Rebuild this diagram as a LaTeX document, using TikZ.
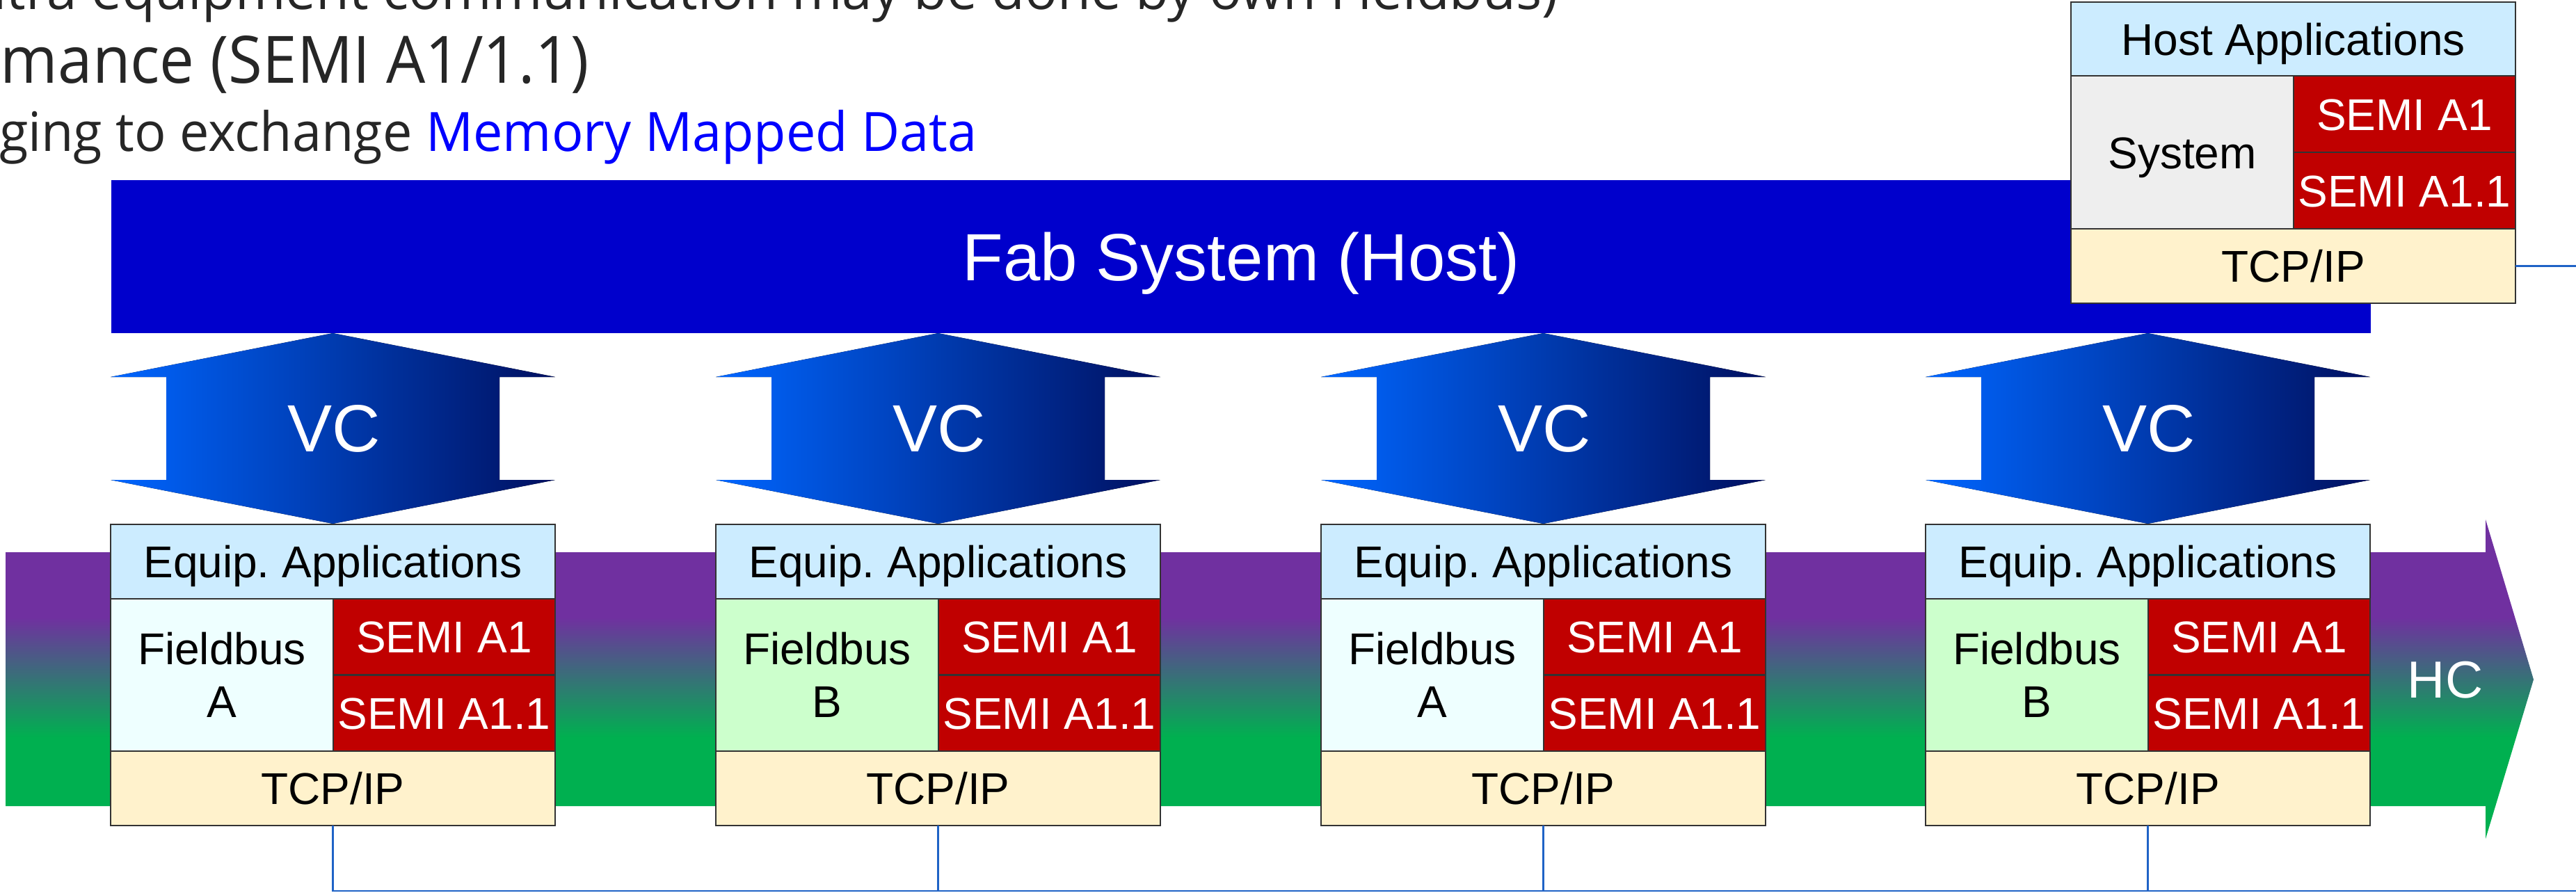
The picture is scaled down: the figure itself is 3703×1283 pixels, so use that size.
\documentclass[tikz,border=0pt]{standalone}
\usepackage{fontspec}
\setmainfont{Liberation Sans}
\newfontfamily\segoeA[FakeStretch=1.0]{Open Sans}
\newfontfamily\segoeB[FakeStretch=0.945]{Open Sans}
\newfontfamily\segoeC[FakeStretch=0.969]{Open Sans}
\definecolor{fabblue}{RGB}{0,0,204}
\definecolor{vcleft}{RGB}{0,102,255}
\definecolor{vcright}{RGB}{0,16,96}
\definecolor{hcpurple}{RGB}{112,48,160}
\definecolor{hcgreen}{RGB}{0,176,80}
\definecolor{appblue}{RGB}{204,236,255}
\definecolor{fbA}{RGB}{238,255,255}
\definecolor{fbB}{RGB}{204,255,204}
\definecolor{semired}{RGB}{192,0,0}
\definecolor{tcpcream}{RGB}{255,242,204}
\definecolor{sysgray}{RGB}{238,238,238}
\definecolor{cellline}{RGB}{51,51,51}
\definecolor{buscol}{RGB}{31,99,198}
\definecolor{textgray}{RGB}{38,38,38}
\definecolor{linkblue}{RGB}{0,0,255}
\pgfdeclareverticalshading{hcshade}{100bp}{color(0bp)=(hcgreen); color(40.9bp)=(hcgreen); color(59.75bp)=(hcpurple); color(100bp)=(hcpurple)}
\tikzset{
  cell/.style={draw=cellline, line width=0.5pt, inner sep=0pt, outer sep=0pt, align=center,
    font=\fontsize{12.8}{15.2}\selectfont, text=black},
  wide/.style={cell, minimum width=127.8pt, minimum height=21.4pt, text height=9.2pt, text depth=0pt},
  half/.style={cell, minimum width=64pt, minimum height=43.8pt},
  semi/.style={cell, fill=semired, text=white, minimum width=63.8pt, minimum height=21.9pt,
    text height=9.2pt, text depth=0pt},
  bus/.style={draw=buscol, line width=0.5pt},
  vcarrow/.style={left color=vcleft, right color=vcright},
  vclabel/.style={text=white, font=\fontsize{19.2}{23}\selectfont, inner sep=0pt},
  toptext/.style={anchor=base west, inner sep=0pt, text=textgray},
}
\newcommand{\eqstack}[6]{%
  \node[wide, fill=appblue, anchor=north west] (app#1) at (#2,#3) {#4};
  \node[half, fill=#6, anchor=north west] (fb#1) at (app#1.south west) {#5};
  \node[semi, anchor=north west] (sa#1) at (fb#1.north east) {SEMI A1};
  \node[semi, anchor=north west] (sb#1) at (sa#1.south west) {SEMI A1.1};
  \node[wide, fill=tcpcream, anchor=north west] (tcp#1) at (fb#1.south west) {TCP/IP};
}
\newcommand{\vcshape}[2]{%
  \fill[vcarrow] (#2,542) -- (#2+319.5,479) -- (#2+639,542) -- (#2+559,542) -- (#2+559,690)
    -- (#2+639,690) -- (#2+319.5,753) -- (#2,690) -- (#2+80,690) -- (#2+80,542) -- cycle;
  \node[vclabel] (vc#1) at (#2+321,616) {VC};
}
\begin{document}
\frenchspacing
\begin{tikzpicture}[x=0.2pt,y=-0.2pt]
\useasboundingbox (0,0) rectangle (3703,1283);
% horizontal communication arrow
\shade[shading=hcshade] (8,794) -- (3573,794) -- (3573,747) -- (3642,977) -- (3573,1206)
  -- (3573,1159) -- (8,1159) -- cycle;
\node[font=\fontsize{15}{18}\selectfont, text=white, inner sep=0pt] (hc) at (3515,978) {HC};
% fab system
\node[fill=fabblue, minimum width=649.6pt, minimum height=44pt, anchor=north west, inner sep=0pt,
  outer sep=0pt, text=white, font=\fontsize{19.2}{23}\selectfont, text height=13.8pt, text depth=0pt]
  (fab) at (160,259) {Fab System (Host)};
% host stack
\node[wide, fill=appblue, anchor=north west, minimum height=21.2pt] (happ) at (2977,3) {Host Applications};
\node[half, fill=sysgray, anchor=north west, minimum height=44pt, text height=9.2pt, text depth=0pt]
  (hsys) at (happ.south west) {System};
\node[semi, anchor=north west, minimum height=22pt] (hsa) at (hsys.north east) {SEMI A1};
\node[semi, anchor=north west, minimum height=22pt] (hsb) at (hsa.south west) {SEMI A1.1};
\node[wide, fill=tcpcream, anchor=north west] (htcp) at (hsys.south west) {TCP/IP};
% vertical communication arrows
\vcshape{1}{159}
\vcshape{2}{1029}
\vcshape{3}{1899}
\vcshape{4}{2768}
% equipment stacks
\eqstack{1}{159}{754}{Equip. Applications}{Fieldbus\\A}{fbA}
\eqstack{2}{1029}{754}{Equip. Applications}{Fieldbus\\B}{fbB}
\eqstack{3}{1899}{754}{Equip. Applications}{Fieldbus\\A}{fbA}
\eqstack{4}{2768}{754}{Equip. Applications}{Fieldbus\\B}{fbB}
% network lines
\coordinate (busend) at (3703,1281);
\draw[bus] (tcp1.south) |- (busend);
\foreach \i in {2,3,4} {\draw[bus] (tcp\i.south) -- (tcp\i.south |- busend);}
\draw[bus] (htcp.east) -- (htcp.east -| busend);
% top text
\node[toptext, font=\segoeA\fontsize{15.6}{18}\selectfont] (t1) at (-39,13)
  {ntra equipment communication may be done by own Fieldbus)};
\node[toptext, font=\segoeB\fontsize{18.8}{22}\selectfont] (t2) at (0,119) {mance (SEMI A1/1.1)};
\node[toptext, font=\segoeC\fontsize{15.6}{18}\selectfont] (t3) at (-2,217)
  {ging to exchange \textcolor{linkblue}{Memory Mapped Data}};
\end{tikzpicture}
\end{document}
